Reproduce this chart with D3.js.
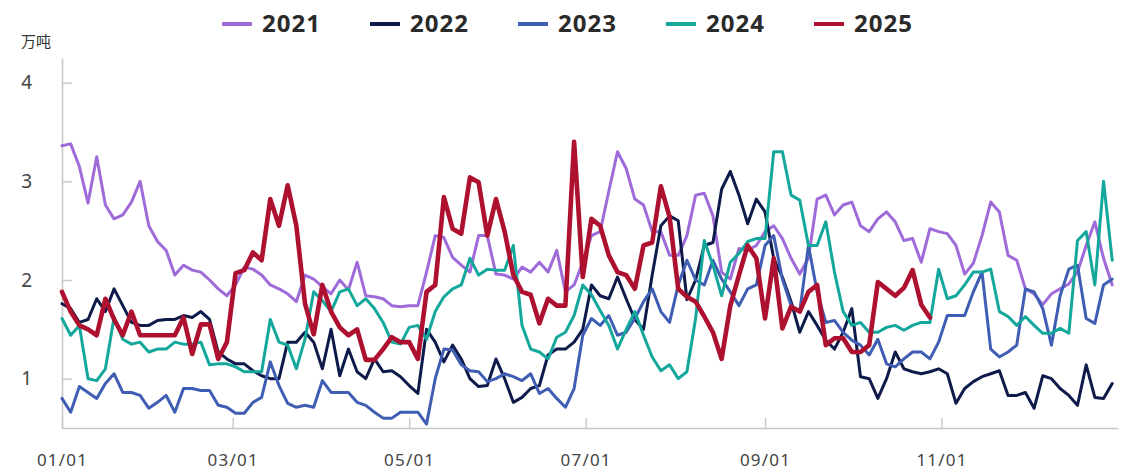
<!DOCTYPE html>
<html>
<head>
<meta charset="utf-8">
<script src="https://cdn.jsdelivr.net/npm/d3@7"></script>
<style>
body { margin: 0; background: #fff; }
svg { display: block; }
</style>
</head>
<body>
<div id="chart"></div>
<script>
// series names + sampled values (every 3 days from 01/01)
const years = ["2021", "2022", "2023", "2024", "2025"];
const yTicks = [1, 2, 3, 4];
const monthTicks = [0, 2, 4, 6, 8, 10];
const unitLabel = "万吨";

const v2021 = [
    3.36, 3.38, 3.15, 2.78, 3.25, 2.76, 2.62, 2.66, 2.79, 3.0, 2.55, 2.39, 2.3,
    2.05, 2.15, 2.1, 2.08, 2.0, 1.91, 1.84, 1.95, 2.13, 2.11, 2.05, 1.95, 1.91, 1.86,
    1.78, 2.05, 2.01, 1.93, 1.86, 2.0, 1.9, 2.18, 1.84, 1.83, 1.81, 1.74, 1.73, 1.74,
    1.74, 2.08, 2.45, 2.43, 2.23, 2.15, 2.08, 2.45, 2.45, 2.06, 2.05, 2.01, 2.13, 2.08,
    2.18, 2.08, 2.3, 1.88, 1.95, 2.18, 2.45, 2.49, 2.9, 3.3, 3.13, 2.82, 2.76, 2.49,
    2.49, 2.25, 2.25, 2.45, 2.86, 2.88, 2.65, 2.08, 2.01, 2.32, 2.3, 2.35, 2.49, 2.55,
    2.42, 2.22, 2.06, 2.22, 2.82, 2.86, 2.66, 2.76, 2.79, 2.55, 2.49, 2.62, 2.69,
    2.59, 2.4, 2.42, 2.18, 2.52, 2.49, 2.47, 2.35, 2.06, 2.17, 2.45, 2.79, 2.69, 2.25,
    2.2, 1.91, 1.86, 1.75, 1.86, 1.91, 1.96, 2.08, 2.35, 2.59, 2.22, 1.95
];
const v2022 = [
    1.76, 1.71, 1.57, 1.6, 1.81, 1.68, 1.91, 1.74, 1.57, 1.54, 1.54, 1.59, 1.6,
    1.6, 1.64, 1.62, 1.68, 1.6, 1.27, 1.2, 1.15, 1.15, 1.08, 1.03, 1.0, 1.0, 1.37,
    1.37, 1.47, 1.37, 1.1, 1.5, 1.03, 1.3, 1.07, 1.0, 1.2, 1.07, 1.08, 1.02, 0.93,
    0.85, 1.5, 1.37, 1.17, 1.34, 1.2, 1.0, 0.92, 0.93, 1.2, 1.0, 0.76, 0.81, 0.9,
    0.93, 1.24, 1.3, 1.3, 1.37, 1.5, 1.95, 1.84, 1.81, 2.03, 1.81, 1.6, 1.5, 2.05,
    2.55, 2.65, 2.6, 1.8, 2.0, 2.35, 2.38, 2.92, 3.1, 2.86, 2.57, 2.82, 2.69, 2.22,
    2.03, 1.78, 1.47, 1.68, 1.54, 1.39, 1.3, 1.47, 1.71, 1.02, 1.0, 0.8, 1.0,
    1.27, 1.1, 1.07, 1.05, 1.07, 1.1, 1.05, 0.75, 0.9, 0.97, 1.02, 1.05, 1.08, 0.83,
    0.83, 0.86, 0.7, 1.03, 1.0, 0.9, 0.83, 0.73, 1.14, 0.81, 0.8, 0.95
];
const v2023 = [
    0.8, 0.66, 0.92, 0.86, 0.8, 0.95, 1.05, 0.86, 0.86, 0.83, 0.7, 0.76, 0.83,
    0.66, 0.9, 0.9, 0.88, 0.88, 0.73, 0.71, 0.65, 0.65, 0.76, 0.81, 1.17, 0.93, 0.75,
    0.71, 0.73, 0.71, 0.98, 0.86, 0.86, 0.86, 0.76, 0.73, 0.66, 0.6, 0.6, 0.66, 0.66,
    0.66, 0.54, 1.0, 1.3, 1.29, 1.14, 1.08, 1.07, 0.97, 1.0, 1.05, 1.02, 0.98, 1.05,
    0.85, 0.9, 0.8, 0.71, 0.9, 1.44, 1.61, 1.54, 1.64, 1.44, 1.47, 1.61, 1.78, 1.91,
    1.68, 1.57, 1.95, 2.2, 2.0, 1.95, 2.2, 2.01, 1.88, 1.74, 1.91, 1.95, 2.35, 2.45,
    2.01, 1.74, 1.68, 2.35, 1.88, 1.57, 1.59, 1.47, 1.39, 1.34, 1.24, 1.4, 1.15,
    1.12, 1.2, 1.27, 1.27, 1.2, 1.37, 1.64, 1.64, 1.64, 1.88, 2.08, 1.3, 1.22, 1.27,
    1.34, 1.91, 1.88, 1.71, 1.34, 1.84, 2.11, 2.15, 1.61, 1.56, 1.95, 2.01
];
const v2024 = [
    1.61, 1.44, 1.54, 1.0, 0.98, 1.1, 1.62, 1.4, 1.35, 1.37, 1.27, 1.3, 1.3,
    1.37, 1.35, 1.35, 1.37, 1.14, 1.15, 1.15, 1.12, 1.07, 1.07, 1.07, 1.6, 1.37, 1.34,
    1.1, 1.4, 1.88, 1.79, 1.68, 1.88, 1.91, 1.74, 1.81, 1.71, 1.57, 1.37, 1.35, 1.52,
    1.54, 1.4, 1.68, 1.83, 1.91, 1.95, 2.22, 2.05, 2.11, 2.1, 2.1, 2.35, 1.54, 1.3,
    1.27, 1.2, 1.42, 1.47, 1.64, 1.95, 1.85, 1.69, 1.54, 1.3, 1.5, 1.68, 1.44, 1.22,
    1.08, 1.14, 1.0, 1.07, 1.61, 2.4, 2.15, 1.84, 2.18, 2.27, 2.39, 2.42, 2.42, 3.3,
    3.3, 2.86, 2.81, 2.35, 2.35, 2.59, 2.08, 1.68, 1.54, 1.57, 1.47, 1.47, 1.52,
    1.54, 1.49, 1.54, 1.57, 1.57, 2.11, 1.81, 1.84, 1.95, 2.08, 2.08, 2.11, 1.68, 1.63,
    1.54, 1.63, 1.54, 1.46, 1.46, 1.51, 1.46, 2.4, 2.49, 1.95, 3.0, 2.2
];
const v2025 = [
    1.88, 1.68, 1.54, 1.5, 1.44, 1.81, 1.6, 1.44, 1.68, 1.44, 1.44, 1.44, 1.44,
    1.44, 1.62, 1.25, 1.55, 1.55, 1.2, 1.37, 2.07, 2.1, 2.28, 2.2, 2.82, 2.55, 2.96,
    2.55, 1.76, 1.45, 1.95, 1.68, 1.52, 1.44, 1.5, 1.19, 1.19, 1.3, 1.42, 1.37, 1.37,
    1.2, 1.88, 1.95, 2.84, 2.52, 2.47, 3.04, 2.99, 2.45, 2.82, 2.49, 2.05, 1.88, 1.85,
    1.56, 1.81, 1.74, 1.74, 3.4, 2.03, 2.62, 2.55, 2.25, 2.08, 2.05, 1.91, 2.35, 2.38,
    2.95, 2.64, 1.91, 1.83, 1.78, 1.63, 1.47, 1.2, 1.74, 2.05, 2.35, 2.22, 1.61, 2.22,
    1.51, 1.73, 1.68, 1.88, 1.95, 1.34, 1.41, 1.41, 1.27, 1.27, 1.34, 1.98, 1.91,
    1.84, 1.92, 2.1, 1.75, 1.62
];
const series = [v2021, v2022, v2023, v2024, v2025];

const color = ["#9e6bd9", "#0e1a4a", "#3f5eb3", "#14a89c", "#ae1030"];
const lineWidth = [3, 3, 3, 3, 4.6];

let width = 1121, height = 474;
let mLeft = 62, mRight = 1118, mTop = 58, mBottom = 428;
let step = 3;

let svg = d3.select('#chart')
    .append('svg')
    .attr('width', width)
    .attr('height', height);

svg.append('rect').attr('width', width).attr('height', height).attr('fill', '#fff');

let toDate = i => new Date(2023, 0, 1 + i * step);

let x = d3.scaleTime()
    .domain([new Date(2023, 0, 1), new Date(2024, 0, 1)])
    .range([mLeft, mRight]);

let y = d3.scaleLinear()
    .domain([0.5, 4.25])
    .range([mBottom, mTop]);

// axes
let xAxis = d3.axisBottom(x)
    .tickValues(monthTicks.map(m => new Date(2023, m, 1)))
    .tickFormat(d3.timeFormat('%m/%d'))
    .tickSize(-10)
    .tickSizeOuter(0)
    .tickPadding(26);

let gx = svg.append('g')
    .attr('transform', 'translate(0,' + mBottom + ')')
    .call(xAxis);

let yAxis = d3.axisLeft(y)
    .tickValues(yTicks)
    .tickFormat(d3.format('d'))
    .tickSize(-10)
    .tickSizeOuter(0)
    .tickPadding(30);

let gy = svg.append('g')
    .attr('transform', 'translate(' + mLeft + ',0)')
    .call(yAxis);

[gx, gy].forEach(g => {
    g.select('.domain').attr('stroke', '#c8c8c8').attr('stroke-width', 1.6);
    g.selectAll('.tick line').attr('stroke', '#c8c8c8').attr('stroke-width', 1.4);
    g.selectAll('.tick text')
        .attr('fill', '#444')
        .attr('font-family', '"Noto Sans", sans-serif');
});
gx.selectAll('.tick text').attr('font-size', 17).attr('letter-spacing', 1.2);
gy.selectAll('.tick text').attr('font-size', 19);

svg.append('text')
    .attr('x', 36)
    .attr('y', 47)
    .attr('text-anchor', 'middle')
    .attr('font-family', '"Noto Sans CJK SC", sans-serif')
    .attr('font-size', 15)
    .attr('fill', '#333')
    .text(unitLabel);

// lines
let line = d3.line()
    .x((d, i) => x(toDate(i)))
    .y(d => y(d));

series.forEach((s, i) => {
    svg.append('path')
        .attr('d', line(s))
        .attr('fill', 'none')
        .attr('stroke', color[i])
        .attr('stroke-width', lineWidth[i])
        .attr('stroke-linejoin', 'round')
        .attr('stroke-linecap', 'round');
});

// legend
let legend = svg.append('g');
years.forEach((d, i) => {
    let lx = 222 + i * 148;
    legend.append('line')
        .attr('x1', lx).attr('x2', lx + 30)
        .attr('y1', 24).attr('y2', 24)
        .attr('stroke', color[i])
        .attr('stroke-width', 4);
    legend.append('text')
        .attr('x', lx + 40)
        .attr('y', 32)
        .attr('font-family', '"Noto Sans", sans-serif')
        .attr('font-weight', 'bold')
        .attr('font-size', 24)
        .attr('letter-spacing', 1)
        .attr('fill', '#2a2a2a')
        .text(d);
});
</script>
</body>
</html>
